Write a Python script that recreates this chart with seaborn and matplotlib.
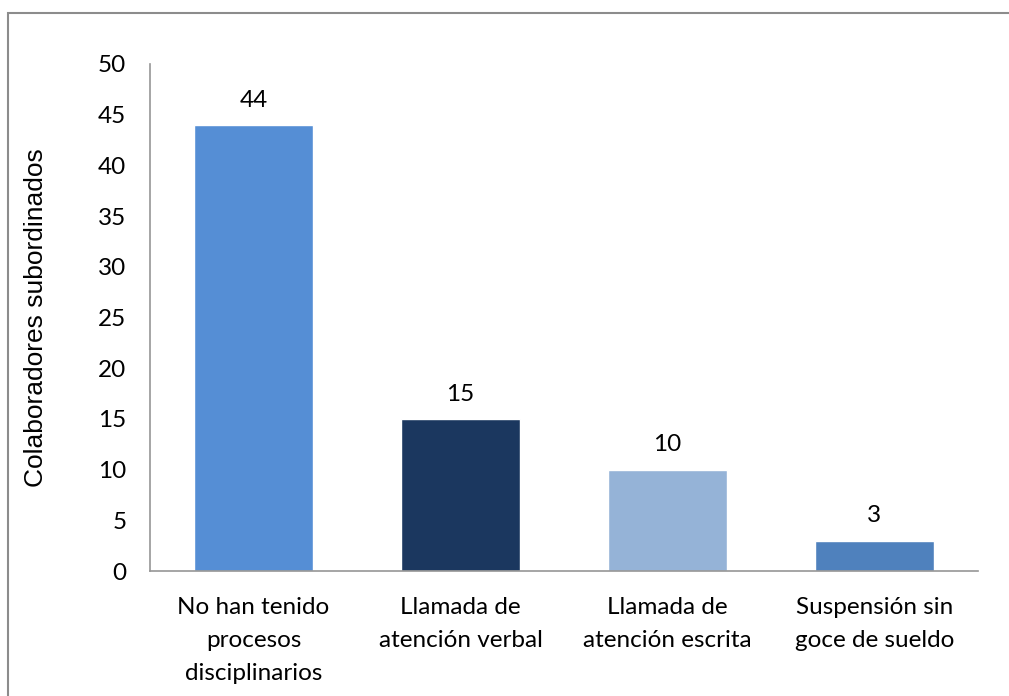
import matplotlib
matplotlib.use("Agg")
import matplotlib.pyplot as plt
import seaborn as sns
import pandas as pd
from matplotlib.patches import Rectangle

categories = ["No han tenido\nprocesos\ndisciplinarios",
              "Llamada de\natención verbal",
              "Llamada de\natención escrita",
              "Suspensión sin\ngoce de sueldo"]
values = [44, 15, 10, 3]
colors = ["#558ED5", "#1B375F", "#95B3D7", "#4F81BD"]
yticks = [0, 5, 10, 15, 20, 25, 30, 35, 40, 45, 50]
ylabel = "Colaboradores subordinados"

sns.set_theme(style="white")
plt.rcParams['font.family'] = ['Lato', 'DejaVu Sans']

df = pd.DataFrame({"cat": categories, "val": values})

fig = plt.figure(figsize=(10.09, 6.96), dpi=100)
ax = fig.add_axes([150/1009, 1-571/696, 828/1009, (571-64)/696])

sns.barplot(data=df, x="cat", y="val", hue="cat", palette=colors,
            width=0.575, legend=False, ax=ax, saturation=1)

ax.set_xlim(-0.5, 3.5)
ax.set_ylim(0, 50)
ax.set_yticks(yticks)
ax.set_yticklabels([str(t) for t in yticks], fontsize=17.5, color="black")
ax.tick_params(axis='y', length=0, pad=17)
ax.tick_params(axis='x', length=0, pad=19, labelsize=17.5, labelcolor="black")
for lbl in ax.get_xticklabels():
    lbl.set_linespacing(1.7)
ax.set_xlabel("")
ax.set_ylabel(ylabel, fontsize=19, family=['Liberation Sans', 'DejaVu Sans'], color="black")
ax.yaxis.set_label_coords(-(150-36)/828, 0.5)
ax.yaxis.label.set_va("center")

for s in ["top", "right"]:
    ax.spines[s].set_visible(False)
for s in ["left", "bottom"]:
    ax.spines[s].set_color("#969696")
    ax.spines[s].set_linewidth(1.2)

for i, v in enumerate(values):
    ax.text(i, v + 1.4, str(v), ha="center", va="bottom", fontsize=17.5, color="black")

fig.patches.append(Rectangle((8/1009, -0.1), 1.2, 1-13/696+0.1, transform=fig.transFigure,
                             fill=False, edgecolor="#8c8c8c", linewidth=1.5, zorder=0))

fig.savefig("out.png", dpi=100)
